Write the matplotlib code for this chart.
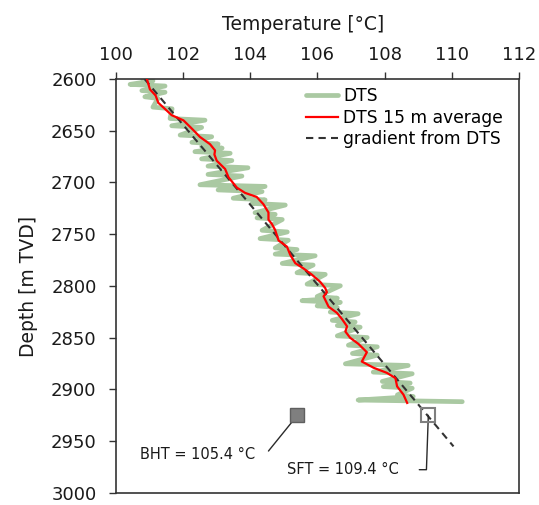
import matplotlib.pyplot as plt
import numpy as np

# DTS: horizontal swings (depth, left / right edge of each swing)
dts_depth = [2601, 2606, 2612, 2618, 2628, 2639, 2646, 2655, 2662, 2666, 2671, 2678,
             2685, 2693, 2703, 2708, 2716, 2721, 2730, 2735, 2747, 2755, 2764, 2770,
             2779, 2788, 2799, 2811, 2815, 2820, 2826, 2834, 2839, 2849, 2858, 2866,
             2876, 2884, 2893, 2898, 2906, 2911]
dts_left = [100.80, 100.42, 100.77, 100.86, 101.10, 101.61, 101.66, 101.91, 102.26, 102.55,
            102.35, 102.55, 102.74, 102.74, 102.50, 103.04, 103.49, 104.05, 104.14, 104.20,
            104.35, 104.29, 104.74, 104.74, 104.95, 105.39, 105.69, 105.99, 105.54, 105.99,
            106.38, 106.44, 106.59, 106.59, 106.92, 107.04, 106.83, 107.66, 107.93, 107.96,
            108.38, 107.21]
dts_right = [101.10, 101.46, 101.46, 101.25, 101.67, 102.65, 102.55, 102.85, 103.04, 103.16,
             103.40, 103.45, 103.93, 103.75, 104.44, 104.35, 104.44, 105.04, 104.74, 104.95,
             105.10, 105.13, 105.39, 105.93, 105.87, 106.23, 106.68, 106.59, 106.68, 106.59,
             107.21, 107.12, 107.27, 107.48, 107.78, 107.78, 108.70, 108.82, 108.76, 108.82,
             108.85, 110.31]

# DTS 15 m average
avg_depth = [2600, 2610, 2616, 2623, 2629, 2635, 2640, 2648, 2656, 2663, 2669, 2673,
             2679, 2687, 2695, 2705, 2710, 2714, 2721, 2729, 2736, 2740, 2746, 2756,
             2762, 2770, 2778, 2783, 2789, 2796, 2802, 2806, 2810, 2820, 2826, 2832,
             2839, 2844, 2850, 2856, 2864, 2870, 2873, 2879, 2884, 2889, 2897, 2905, 2913]
avg_temp = [100.92, 101.01, 101.18, 101.26, 101.46, 101.66, 102.01, 102.26, 102.50, 102.80,
            102.95, 102.93, 103.00, 103.25, 103.35, 103.60, 103.84, 104.19, 104.39, 104.54,
            104.54, 104.64, 104.74, 104.84, 105.09, 105.19, 105.34, 105.58, 105.83, 106.08,
            106.23, 106.28, 106.18, 106.33, 106.58, 106.73, 106.88, 106.83, 106.97, 107.22,
            107.47, 107.37, 107.32, 107.67, 108.07, 108.32, 108.37, 108.56, 108.67]

# gradient from DTS
grad_depth = [2600, 2955]
grad_temp = [100.85, 110.05]

bht_temp, bht_depth = 105.4, 2925
sft_temp, sft_depth = 109.3, 2925

# zigzag path through the swings
zz_depth = np.column_stack([np.array(dts_depth) - 0.8, np.array(dts_depth) + 0.8]).ravel()
zz_temp = np.column_stack([dts_left, dts_right]).ravel()

fig = plt.figure(figsize=(5.39, 5.05), dpi=100)
ax = fig.add_axes([0.2152, 0.0238, 0.7477, 0.8198])

ax.plot(zz_temp, zz_depth, color="#aac9a2", lw=3.4, solid_joinstyle="round",
        solid_capstyle="round", label="DTS", zorder=2)
ax.plot(avg_temp, avg_depth, color="#ff0000", lw=1.6, label="DTS 15 m average", zorder=4)
ax.plot(grad_temp, grad_depth, color="#333333", lw=1.5, dashes=(3.5, 2.5),
        label="gradient from DTS", zorder=3)

ax.plot(bht_temp, bht_depth, "s", ms=10, mfc="#7f7f7f", mec="#5f5f5f", mew=1, zorder=6)
ax.plot(sft_temp, sft_depth, "s", ms=9.5, mfc="none", mec="#7f7f7f", mew=1.5, zorder=6)

ax.annotate("BHT = 105.4 °C", xy=(bht_temp, bht_depth), xytext=(104.14, 2962.5),
            ha="right", va="center", fontsize=10.5, color="#1a1a1a",
            arrowprops=dict(arrowstyle="-", color="#2a2a2a", lw=1, shrinkA=8, shrinkB=0,
                            relpos=(1, 0.5),
                            connectionstyle="angle,angleA=0,angleB=51,rad=0"))
ax.annotate("SFT = 109.4 °C", xy=(sft_temp, sft_depth), xytext=(108.41, 2977.5),
            ha="right", va="center", fontsize=10.5, color="#1a1a1a",
            arrowprops=dict(arrowstyle="-", color="#2a2a2a", lw=1, shrinkA=13, shrinkB=0,
                            relpos=(1, 0.5),
                            connectionstyle="angle,angleA=0,angleB=88,rad=0"))

ax.set_xlim(100, 112)
ax.set_ylim(3000, 2600)
ax.set_xticks(np.arange(100, 113, 2))
ax.set_yticks(np.arange(2600, 3001, 50))
ax.xaxis.tick_top()
ax.xaxis.set_label_position("top")
ax.tick_params(axis="both", direction="out", length=5, width=1, color="#333333",
               labelsize=13, labelcolor="#1a1a1a")
ax.tick_params(axis="x", pad=6)
ax.tick_params(axis="y", pad=9)
ax.set_xlabel("Temperature [°C]", fontsize=13.5, color="#1a1a1a", labelpad=11)
ax.xaxis.set_label_coords(0.465, 1.0)
ax.xaxis.label.set_verticalalignment("bottom")
ax.set_ylabel("Depth [m TVD]", fontsize=13.5, color="#1a1a1a", labelpad=9)
for s in ax.spines.values():
    s.set_color("#333333")
    s.set_linewidth(1.2)

leg = ax.legend(loc="upper right", bbox_to_anchor=(0.99, 1.01), frameon=False, fontsize=12.3,
                handlelength=1.9, handletextpad=0.3, labelspacing=0.22, borderaxespad=0.3)

fig.canvas.draw()
# move the x label above the tick labels (set_label_coords disables auto-placement)
tl = max(t.get_window_extent().y1 for t in ax.get_xticklabels())
inv = ax.transAxes.inverted()
ax.xaxis.set_label_coords(0.465, inv.transform((0, tl + 12))[1])

fig.savefig("out.png", dpi=100)
